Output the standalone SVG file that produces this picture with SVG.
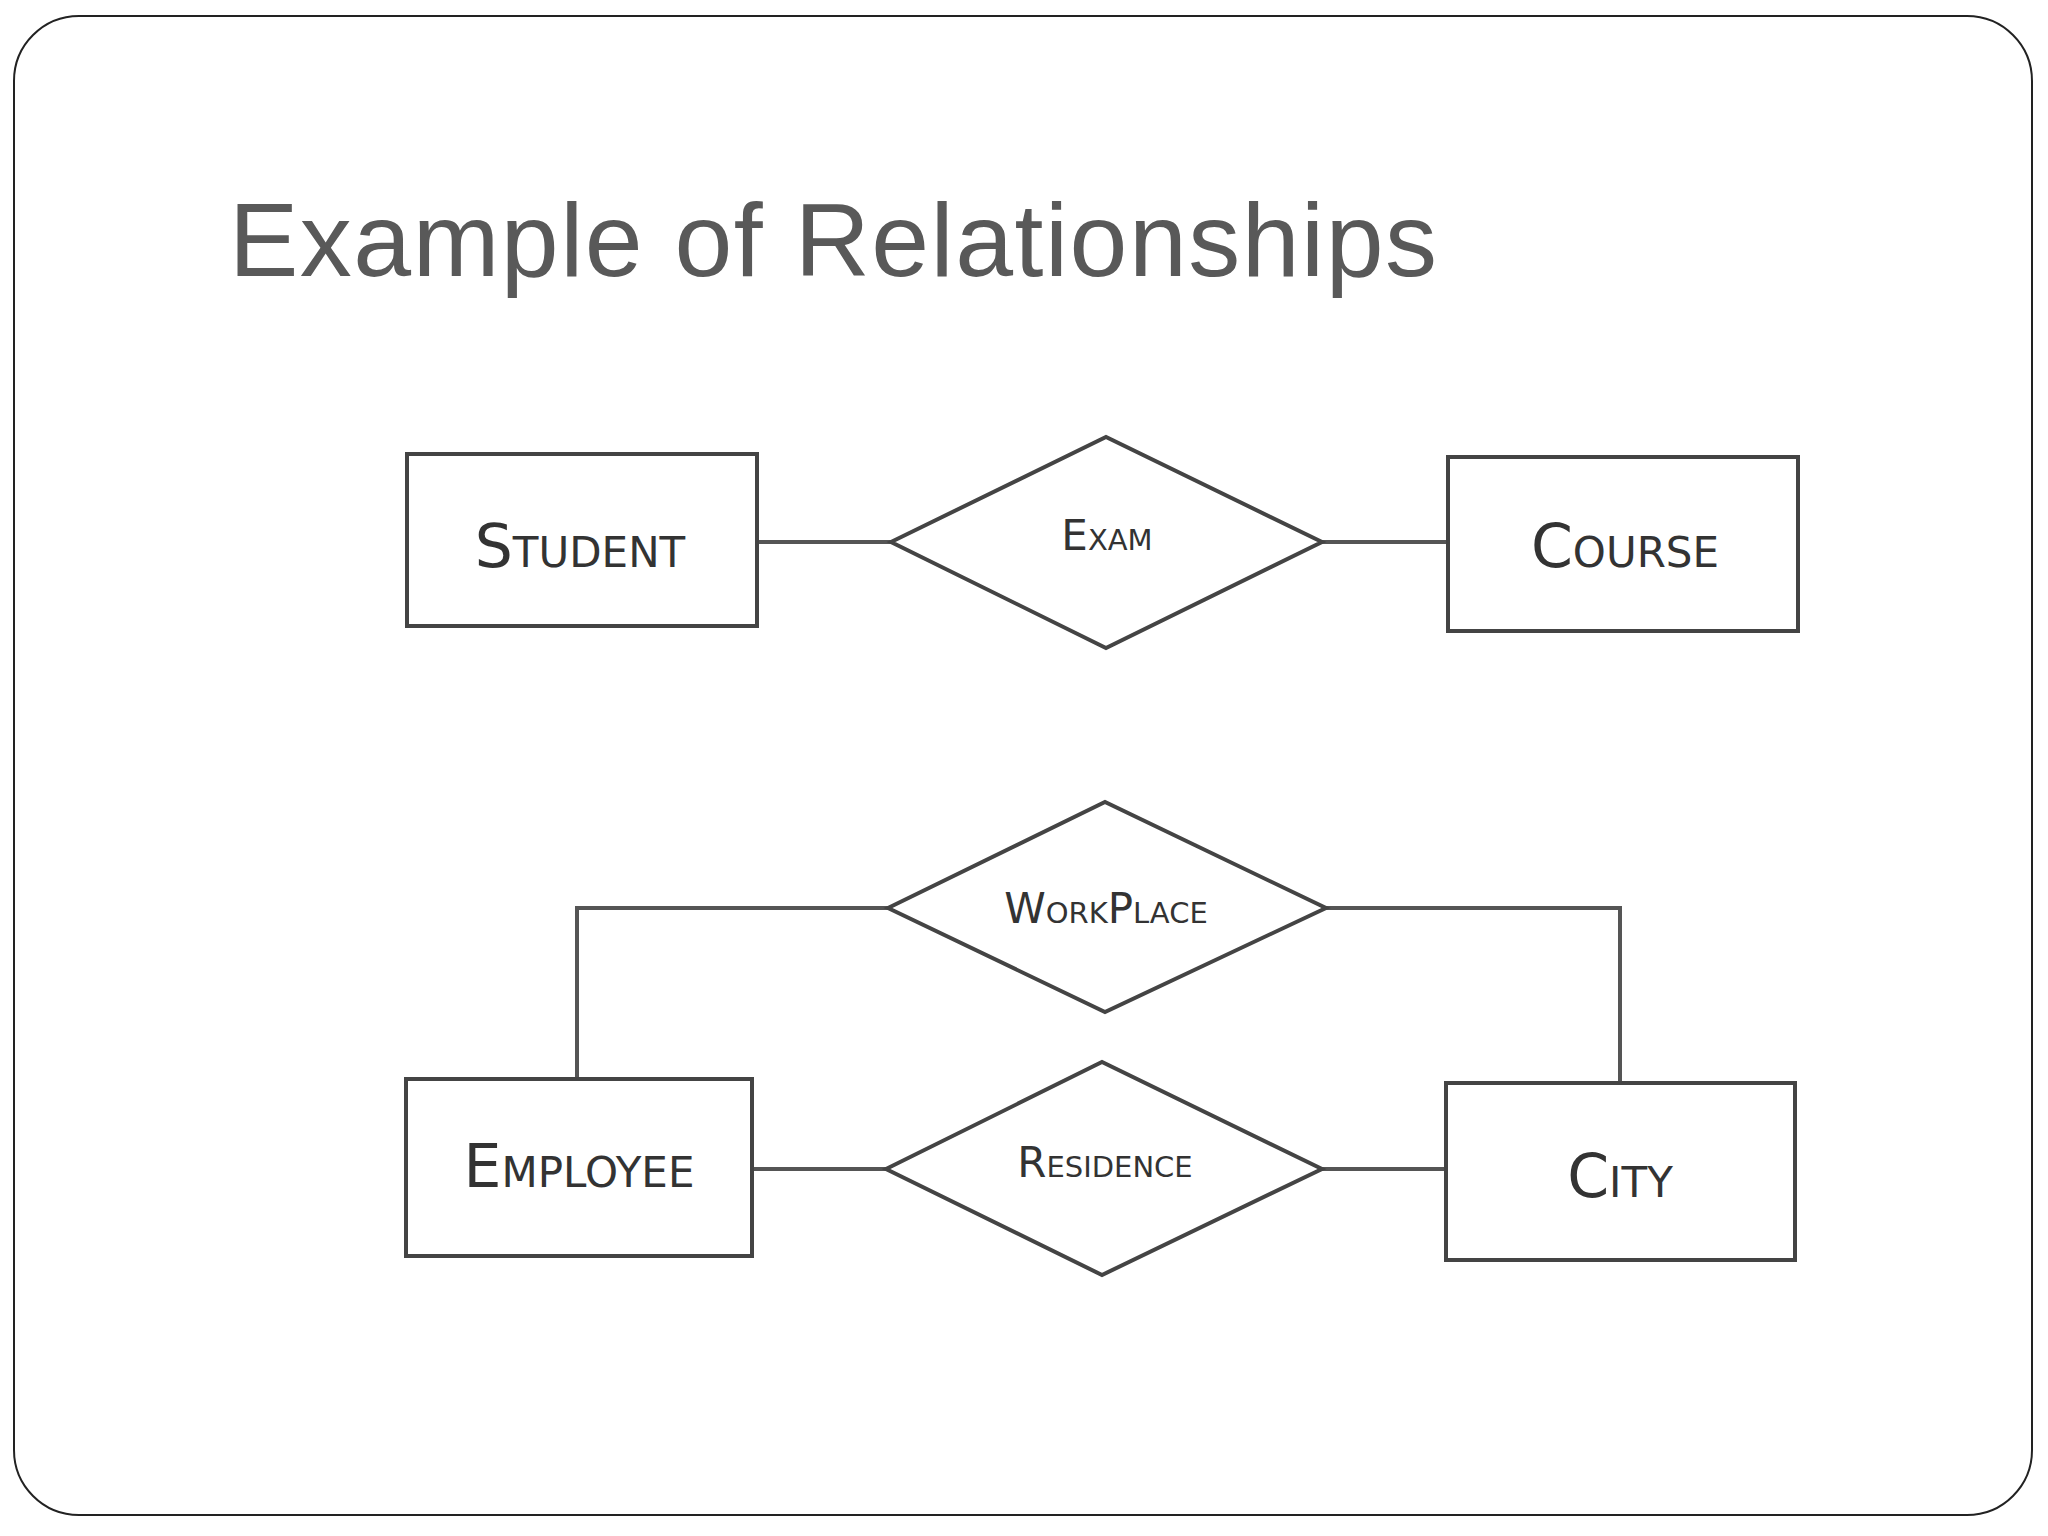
<svg xmlns="http://www.w3.org/2000/svg" width="2048" height="1536" viewBox="0 0 2048 1536">
<style>
.s{fill:#fff;stroke:#444;stroke-width:4}
.c{stroke:#555;stroke-width:4;fill:none}
.t{font-family:"DejaVu Sans","Liberation Sans",sans-serif;font-variant:small-caps;fill:#333;text-anchor:middle;dominant-baseline:central}
.b{font-size:60px}
.m{font-size:42px}
</style>
<rect x="0" y="0" width="2048" height="1536" fill="#fff"/>
<rect x="14" y="16" width="2018" height="1499" rx="65" fill="#fff" stroke="#222" stroke-width="2"/>
<text x="229" y="276" font-family="Liberation Sans, sans-serif" font-size="104" letter-spacing="1.5" fill="#595959">Example of Relationships</text>
<g id="connectors">
<line class="c" x1="757" y1="542" x2="891" y2="542"/>
<line class="c" x1="1322" y1="542" x2="1448" y2="542"/>
<polyline class="c" points="577,1079 577,908 888,908"/>
<polyline class="c" points="1326,908 1620,908 1620,1083"/>
<line class="c" x1="752" y1="1169" x2="886" y2="1169"/>
<line class="c" x1="1322" y1="1169" x2="1446" y2="1169"/>
</g>
<g id="student"><rect class="s" x="407" y="454" width="350" height="172"/><text class="t b" x="580" y="546">Student</text></g>
<g id="exam"><polygon class="s" points="891,542 1106,437 1322,542 1106,648"/><text class="t m" x="1107" y="535">Exam</text></g>
<g id="course"><rect class="s" x="1448" y="457" width="350" height="174"/><text class="t b" x="1625" y="546">Course</text></g>
<g id="workplace"><polygon class="s" points="888,908 1105,802 1326,908 1105,1012"/><text class="t m" x="1106" y="908">WorkPlace</text></g>
<g id="employee"><rect class="s" x="406" y="1079" width="346" height="177"/><text class="t b" x="579" y="1166">Employee</text></g>
<g id="residence"><polygon class="s" points="886,1169 1102,1062 1322,1169 1102,1275"/><text class="t m" x="1105" y="1162">Residence</text></g>
<g id="city"><rect class="s" x="1446" y="1083" width="349" height="177"/><text class="t b" x="1620" y="1176">City</text></g>
</svg>
